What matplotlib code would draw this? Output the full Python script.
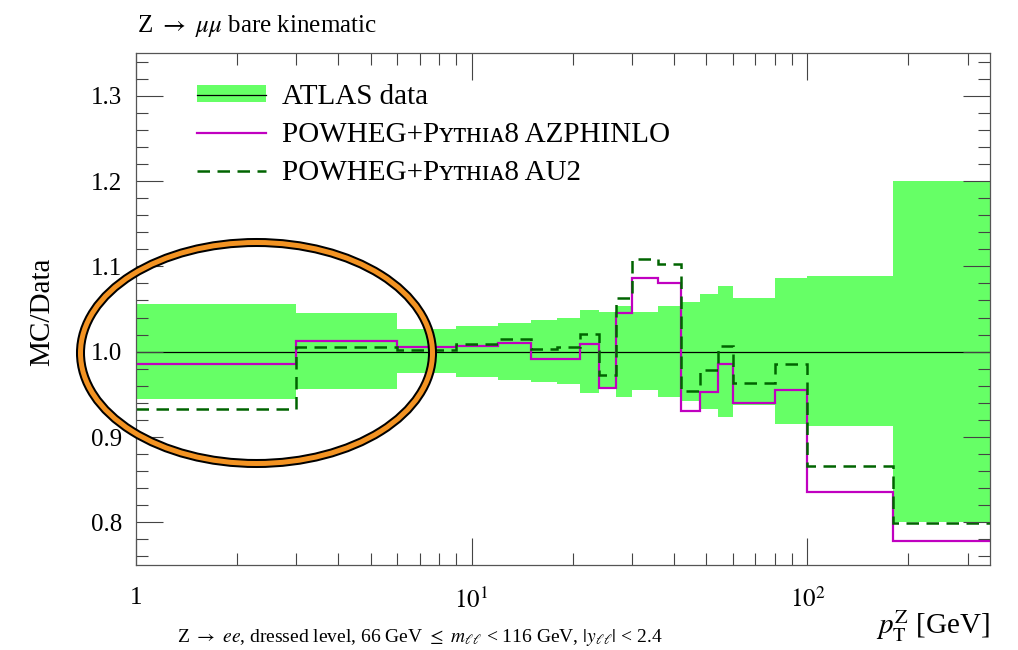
import matplotlib
matplotlib.use("Agg")
import matplotlib.pyplot as plt
import numpy as np
from matplotlib.patches import Ellipse, Patch
from matplotlib.lines import Line2D
from matplotlib.ticker import FixedLocator, FixedFormatter, MultipleLocator, LogLocator, NullFormatter, FormatStrFormatter

# bin edges in pT(Z) [GeV]
edges = [1, 3, 6, 9, 12, 15, 18, 21, 24, 27, 30, 36, 42, 48, 54, 60, 80, 100, 180, 350]

# ATLAS data uncertainty band (ratio to data)
band_lo = [0.945, 0.9565, 0.975, 0.970, 0.967, 0.964, 0.962, 0.951, 0.957, 0.947,
           0.9546, 0.947, 0.942, 0.933, 0.924, 0.937, 0.915, 0.913, 0.800]
band_hi = [1.0564, 1.0454, 1.026, 1.030, 1.034, 1.037, 1.039, 1.049, 1.0466, 1.054,
           1.047, 1.054, 1.058, 1.068, 1.077, 1.063, 1.086, 1.0885, 1.200]
data_ratio = [1.0, 1.0, 1.0, 1.0, 1.0, 1.0, 1.0, 1.0, 1.0, 1.0,
              1.0, 1.0, 1.0, 1.0, 1.0, 1.0, 1.0, 1.0, 1.0]

# MC / data
azphinlo = [0.986, 1.013, 1.0055, 1.007, 1.010, 0.991, 0.991, 1.0086, 0.957, 1.045,
            1.0866, 1.0807, 0.930, 0.953, 0.985, 0.940, 0.9546, 0.836, 0.778]
au2 = [0.933, 1.0055, 1.0023, 1.009, 1.0153, 1.0027, 1.005, 1.021, 0.973, 1.063,
       1.109, 1.103, 0.9535, 0.979, 1.0067, 0.963, 0.986, 0.8664, 0.799]

green = "#66ff66"
magenta = "#c000c0"
dkgreen = "#006400"

plt.rcParams["font.family"] = ["Liberation Serif", "DejaVu Serif", "DejaVu Sans"]
plt.rcParams["mathtext.fontset"] = "stix"

W, H = 1018, 650
fig = plt.figure(figsize=(W / 100, H / 100), dpi=100)
ax = fig.add_axes([136 / W, 1 - 565 / H, (990 - 136) / W, (565 - 53) / H])

ax.bar(edges[:-1], np.subtract(band_hi, band_lo), width=np.diff(edges), bottom=band_lo,
       align="edge", color=green, linewidth=0)
ax.stairs(data_ratio, edges, baseline=None, color="black", lw=0.9)
ax.stairs(azphinlo, edges, baseline=None, color=magenta, lw=1.6)
ax.stairs(au2, edges, baseline=None, color=dkgreen, lw=1.8, linestyle=(0, (5, 3)))

ax.set_xscale("log")
ax.set_xlim(1, 350)
ax.set_ylim(0.75, 1.35)
ax.xaxis.set_major_locator(FixedLocator([1, 10, 100]))
ax.xaxis.set_major_formatter(FixedFormatter(["1", r"$10^{1}$", r"$10^{2}$"]))
ax.xaxis.set_minor_locator(LogLocator(base=10, subs=np.arange(2, 10), numticks=12))
ax.xaxis.set_minor_formatter(NullFormatter())
ax.yaxis.set_major_locator(MultipleLocator(0.1))
ax.yaxis.set_minor_locator(MultipleLocator(0.02))
ax.yaxis.set_major_formatter(FormatStrFormatter("%.1f"))
ax.tick_params(which="both", direction="in", top=True, right=True, width=0.8, color="#444444")
ax.tick_params(which="major", length=19.5, labelsize=18)
ax.tick_params(which="minor", length=8.6)
ax.tick_params(axis="x", which="major", pad=16)
ax.tick_params(axis="y", which="major", pad=10)
for s in ax.spines.values():
    s.set_color("#555555")
    s.set_linewidth(0.9)

handles = [(Patch(facecolor=green, linewidth=0), Line2D([], [], color="black", lw=0.9)),
           Line2D([], [], color=magenta, lw=1.6),
           Line2D([], [], color=dkgreen, lw=1.8, linestyle=(0, (5, 3)))]
labels = ["ATLAS data", "POWHEG+Pʏᴛʜɪᴀ8 AZPHINLO", "POWHEG+Pʏᴛʜɪᴀ8 AU2"]
fig.legend(handles, labels, loc="upper left", bbox_to_anchor=(197 / W, 1 - 84 / H),
           frameon=False, fontsize=21, handlelength=2.35, handletextpad=0.58,
           labelspacing=0.42, handleheight=0.5, borderpad=0, borderaxespad=0)

fig.text(137 / W, 1 - 32 / H, r"Z $\rightarrow$ $\mu\mu$ bare kinematic", fontsize=18, va="baseline")
fig.text(42 / W, 1 - 312 / H, "MC/Data", rotation=90, ha="center", va="center", fontsize=21)
fig.text(990 / W, 1 - 634 / H, r"$p_{\mathrm{T}}^{\mathrm{Z}}$ [GeV]", ha="right", va="baseline", fontsize=21)
fig.text(420 / W, 1 - 642 / H,
         r"Z $\rightarrow$ $ee$, dressed level, 66 GeV $\leq$ $m_{\ell\ell}$ < 116 GeV, $|y_{\ell\ell}|$ < 2.4",
         ha="center", va="baseline", fontsize=14)

# highlight ellipse (black outline with orange core)
for lw, col in [(6.5, "black"), (3.6, "#f39322")]:
    fig.add_artist(Ellipse((256.5 / W, 1 - 353 / H), 352 / W, 221 / H, fill=False,
                           edgecolor=col, linewidth=lw, transform=fig.transFigure))

fig.savefig("out.png", dpi=100)
